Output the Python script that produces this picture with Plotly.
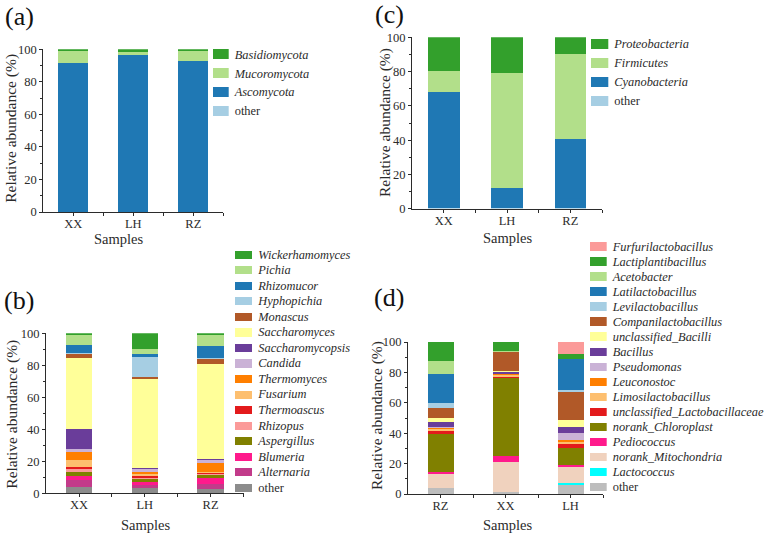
import plotly.graph_objects as go

FONT = "Liberation Serif, Times New Roman, serif"
INK = "#2b2b2b"

# ---------------- data ----------------
samples_abc = ["XX", "LH", "RZ"]
samples_d = ["RZ", "XX", "LH"]

# (a) fungal phyla, stack order bottom -> top
a_taxa = ["other", "Ascomycota", "Mucoromycota", "Basidiomycota"]
a_XX = [0.1, 91.6, 7.5, 0.8]
a_LH = [0.1, 96.4, 1.7, 1.8]
a_RZ = [0.1, 92.5, 6.6, 0.8]

# (b) fungal genera, stack order bottom -> top
b_taxa = ["other", "Alternaria", "Blumeria", "Aspergillus", "Rhizopus", "Thermoascus",
          "Fusarium", "Thermomyces", "Candida", "Saccharomycopsis", "Saccharomyces",
          "Monascus", "Hyphopichia", "Rhizomucor", "Pichia", "Wickerhamomyces"]
b_XX = [3.8, 4.4, 2.4, 2.8, 1.6, 1.0, 4.8, 5.0, 1.8, 12.2, 44.6, 2.7, 0.2, 5.5, 6.2, 1.0]
b_LH = [3.1, 2.1, 1.5, 2.3, 0.4, 1.8, 0.6, 1.5, 2.0, 0.1, 56.4, 0.9, 12.3, 1.7, 3.0, 10.3]
b_RZ = [2.7, 2.9, 3.8, 2.0, 0.5, 1.0, 0.5, 5.6, 1.8, 0.3, 59.5, 3.7, 0.3, 7.5, 6.4, 1.5]

# (c) bacterial phyla, stack order bottom -> top
c_taxa = ["other", "Cyanobacteria", "Firmicutes", "Proteobacteria"]
c_XX = [0.1, 67.6, 12.7, 19.6]
c_LH = [0.1, 11.8, 67.3, 20.8]
c_RZ = [0.1, 40.4, 49.6, 9.9]

# (d) bacterial genera, stack order bottom -> top
d_taxa = ["other", "Lactococcus", "norank_Mitochondria", "Pediococcus", "norank_Chloroplast",
          "unclassified_Lactobacillaceae", "Limosilactobacillus", "Leuconostoc", "Pseudomonas",
          "Bacillus", "unclassified_Bacilli", "Companilactobacillus", "Levilactobacillus",
          "Latilactobacillus", "Acetobacter", "Lactiplantibacillus", "Furfurilactobacillus"]
d_RZ = [4.2, 0.0, 9.2, 1.1, 25.2, 2.2, 0.9, 1.1, 0.5, 3.0, 2.6, 6.6, 3.1, 19.5, 8.1, 12.7, 0.0]
d_XX = [1.0, 0.0, 19.8, 4.0, 52.0, 0.1, 1.9, 0.3, 0.3, 1.2, 0.4, 12.6, 0.1, 0.1, 0.1, 6.1, 0.0]
d_LH = [6.1, 1.1, 10.3, 1.8, 10.7, 2.8, 1.5, 1.5, 4.6, 4.0, 4.2, 19.0, 0.5, 20.4, 0.0, 3.3, 8.2]

# ---------------- styles ----------------
a_colors = ["#a6cee3", "#1f78b4", "#b2df8a", "#33a02c"]
b_colors = ["#8c8c8c", "#c23b8a", "#ff1a8c", "#808000", "#fb9a99", "#e31a1c",
            "#fdbf6f", "#ff7f00", "#cab2d6", "#6a3d9a", "#ffff99",
            "#b15928", "#a6cee3", "#1f78b4", "#b2df8a", "#33a02c"]
c_colors = ["#a6cee3", "#1f78b4", "#b2df8a", "#33a02c"]
d_colors = ["#bdbdbd", "#00ffff", "#f0d2be", "#ff1a8c", "#808000",
            "#e31a1c", "#fdbf6f", "#ff7f00", "#cab2d6",
            "#6a3d9a", "#ffff99", "#b15928", "#a6cee3",
            "#1f78b4", "#b2df8a", "#33a02c", "#fb9a99"]

W, H = 767, 534
TICK = 12.5
LEG = 12.4


def px_x(a, b):
    return [a / W, b / W]


def px_y(top, bottom):
    return [1 - bottom / H, 1 - top / H]


fig = go.Figure()


def add_stack(taxa, columns, samples, colors, n, width):
    for i, t in enumerate(taxa):
        fig.add_trace(go.Bar(
            x=samples, y=[col[i] for col in columns], name=t,
            marker=dict(color=colors[i], line=dict(width=0)),
            width=width, xaxis=f"x{n}", yaxis=f"y{n}", showlegend=False,
        ))


def add_legend(taxa, colors, n, height):
    names = taxa[::-1]
    cols = colors[::-1]
    fig.add_trace(go.Bar(
        x=[1] * len(names), y=names, orientation="h",
        marker=dict(color=cols, line=dict(width=0)), width=height,
        xaxis=f"x{n}", yaxis=f"y{n}", showlegend=False, hoverinfo="skip",
    ))
    return names


add_stack(a_taxa, [a_XX, a_LH, a_RZ], samples_abc, a_colors, 1, 0.5)
add_stack(b_taxa, [b_XX, b_LH, b_RZ], samples_abc, b_colors, 2, 0.4)
add_stack(c_taxa, [c_XX, c_LH, c_RZ], samples_abc, c_colors, 3, 0.5)
add_stack(d_taxa, [d_RZ, d_XX, d_LH], samples_d, d_colors, 4, 0.4)

leg_a = add_legend(a_taxa, a_colors, 5, 0.53)
leg_b = add_legend(b_taxa, b_colors, 6, 0.52)
leg_c = add_legend(c_taxa, c_colors, 7, 0.52)
leg_d = add_legend(d_taxa, d_colors, 8, 0.55)


def xax(dom, n):
    return dict(
        domain=dom, anchor=f"y{n}", type="category", range=[-0.5, 2.5], automargin=False,
        showline=True, linecolor=INK, linewidth=1, ticks="outside", ticklen=3,
        tickcolor=INK, tickwidth=1, tickfont=dict(size=TICK, color=INK, family=FONT),
        ticklabelstandoff=-3,
        minor=dict(tickvals=[0.5, 1.5, 2.5], ticks="outside", ticklen=3, tickcolor=INK),
        showgrid=False, zeroline=False,
    )


def yax(dom, n):
    return dict(
        domain=dom, anchor=f"x{n}", range=[0, 100], dtick=20, automargin=False,
        showline=True, linecolor=INK, linewidth=1, ticks="outside", ticklen=3,
        tickcolor=INK, tickwidth=1, tickfont=dict(size=TICK, color=INK, family=FONT),
        minor=dict(dtick=10, ticks="outside", ticklen=2, tickcolor=INK),
        showgrid=False, zeroline=False,
    )


def leg_x(dom, n):
    return dict(domain=dom, anchor=f"y{n}", range=[0, 1], visible=False,
                fixedrange=True, automargin=False)


def leg_y(dom, n, names):
    return dict(
        domain=dom, anchor=f"x{n}", type="category", side="right", automargin=False,
        range=[len(names) - 0.5, -0.5], showline=False, ticks="", showgrid=False,
        zeroline=False, tickmode="array", tickvals=names,
        ticktext=[nm if nm == "other" else f"<i>{nm}</i>" for nm in names],
        tickfont=dict(size=LEG, color=INK, family=FONT), ticklabelstandoff=5,
        fixedrange=True,
    )


layout = dict(
    width=W, height=H, margin=dict(l=0, r=0, t=0, b=0, autoexpand=False),
    paper_bgcolor="white", plot_bgcolor="rgba(0,0,0,0)",
    barmode="stack", bargap=0, showlegend=False,
    font=dict(family=FONT, color=INK),
    xaxis=xax(px_x(43.3, 223.3), 1), yaxis=yax(px_y(49.3, 212), 1),
    xaxis2=xax(px_x(46.1, 243.5), 2), yaxis2=yax(px_y(333.3, 493.3), 2),
    xaxis3=xax(px_x(412, 602), 3), yaxis3=yax(px_y(37.3, 208.7), 3),
    xaxis4=xax(px_x(408, 603), 4), yaxis4=yax(px_y(342, 494), 4),
    xaxis5=leg_x(px_x(212.7, 228.7), 5), yaxis5=leg_y(px_y(44.85, 120.45), 5, leg_a),
    xaxis6=leg_x(px_x(235, 252.3), 6), yaxis6=leg_y(px_y(246.5, 495.1), 6, leg_b),
    xaxis7=leg_x(px_x(590.7, 608.3), 7), yaxis7=leg_y(px_y(33.7, 110.3), 7, leg_c),
    xaxis8=leg_x(px_x(590, 606.7), 8), yaxis8=leg_y(px_y(239.2, 494.5), 8, leg_d),
)
fig.update_layout(**layout)

# panel letters
for label, x, y in [("(a)", 3, 17), ("(b)", 1.5, 300), ("(c)", 373, 15), ("(d)", 372, 297.5)]:
    fig.add_annotation(text=label, xref="paper", yref="paper", x=x / W, y=1 - y / H,
                       xanchor="left", yanchor="middle", showarrow=False,
                       font=dict(size=26, color="#111", family=FONT))

# axis titles
for x, y in [(10.8, 128), (11.7, 414), (385, 123), (377, 416)]:
    fig.add_annotation(text="Relative abundance (%)", xref="paper", yref="paper",
                       x=x / W, y=1 - y / H, xanchor="center", yanchor="middle",
                       textangle=-90, showarrow=False,
                       font=dict(size=15.5, color=INK, family=FONT))
for x, y in [(118, 239), (145, 525), (507, 238), (507, 525)]:
    fig.add_annotation(text="Samples", xref="paper", yref="paper",
                       x=x / W, y=1 - y / H, xanchor="center", yanchor="middle",
                       showarrow=False, font=dict(size=14.5, color=INK, family=FONT))

fig.write_html("out.html")
